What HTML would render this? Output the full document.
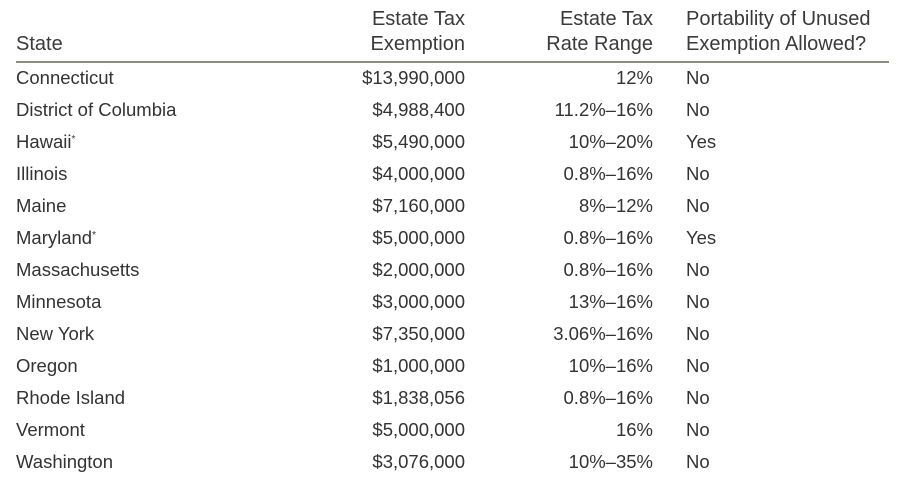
<!DOCTYPE html>
<html><head><meta charset="utf-8"><style>
body{margin:0;width:916px;height:484px;background:#fff;font-family:"Liberation Sans",sans-serif;color:#333;position:relative;overflow:hidden}
.t{position:absolute;white-space:nowrap;line-height:1}
.h{font-size:20px;color:#3a3a3a}
.b{font-size:18.5px}
.r{text-align:right}
#rule{position:absolute;left:16px;top:61px;width:873px;height:1.5px;background:#8c8b80}
</style></head><body>
<div class="t h" style="left:16px;top:34px">State</div>
<div class="t h r" style="right:451px;top:9px">Estate Tax<br><span style="display:inline-block;margin-top:5px">Exemption</span></div>
<div class="t h r" style="right:263px;top:9px">Estate Tax<br><span style="display:inline-block;margin-top:5px">Rate Range</span></div>
<div class="t h" style="left:686px;top:9px">Portability of Unused<br><span style="display:inline-block;margin-top:5px">Exemption Allowed?</span></div>
<div id="rule"></div>
<div id="rows"></div>
<script>
const states=["Connecticut","District of Columbia","Hawaii*","Illinois","Maine","Maryland*","Massachusetts","Minnesota","New York","Oregon","Rhode Island","Vermont","Washington"];
const exemptions=["$13,990,000","$4,988,400","$5,490,000","$4,000,000","$7,160,000","$5,000,000","$2,000,000","$3,000,000","$7,350,000","$1,000,000","$1,838,056","$5,000,000","$3,076,000"];
const rates=["12%","11.2%–16%","10%–20%","0.8%–16%","8%–12%","0.8%–16%","0.8%–16%","13%–16%","3.06%–16%","10%–16%","0.8%–16%","16%","10%–35%"];
const portability=["No","No","Yes","No","No","Yes","No","No","No","No","No","No","No"];
const rows=document.getElementById('rows');
states.forEach((s,i)=>{
  const top=69+i*32;
  const cells=[[s,'left:16px','state-cell'],[exemptions[i],'right:451px','exemption-cell'],[rates[i],'right:263px','rate-cell'],[portability[i],'left:686px','portability-cell']];
  cells.forEach(c=>{
    const d=document.createElement('div');
    d.className='t b';
    d.setAttribute('style',c[1]+';top:'+top+'px');
    d.innerHTML=c[0].replace('*','<sup style="font-size:10px;vertical-align:6px">*</sup>');
    
    
    rows.appendChild(d);
  });
});
</script>
</body></html>
